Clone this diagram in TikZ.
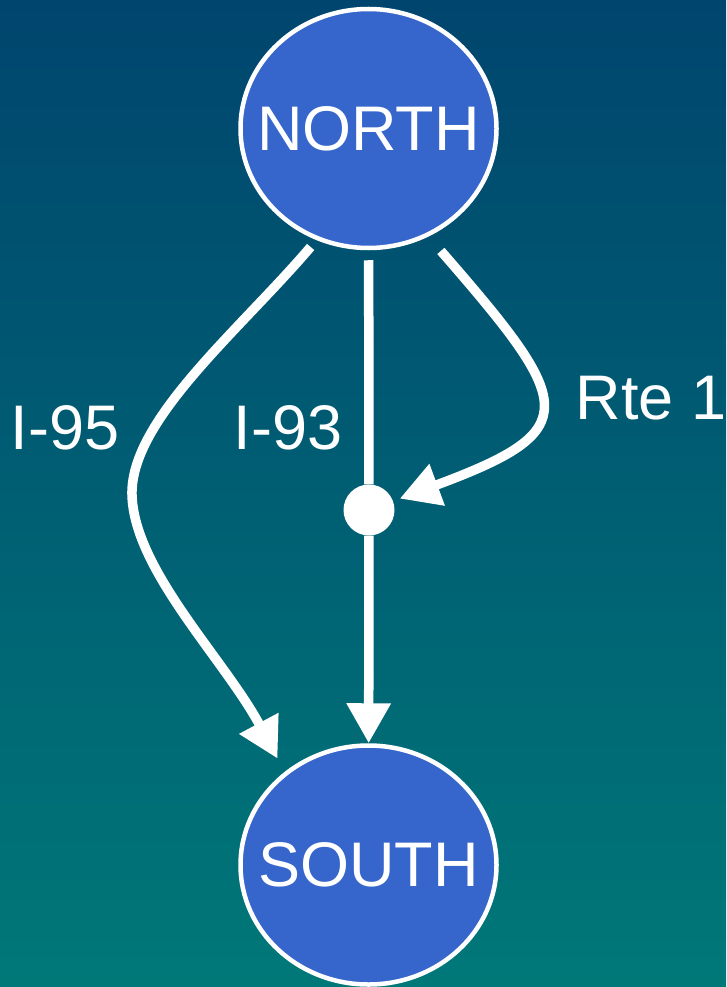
\documentclass[tikz,border=0pt]{standalone}
\usepackage{fontspec}
\setmainfont{Liberation Sans}
\usetikzlibrary{arrows.meta,shapes.geometric}
\definecolor{bgtop}{HTML}{00456E}
\definecolor{bgbottom}{HTML}{007878}
\definecolor{nodefill}{HTML}{3666CC}
\begin{document}
\begin{tikzpicture}[x=1pt,y=-1pt,
  place/.style={ellipse,draw=white,line width=4.5pt,fill=nodefill,text=white,
    minimum width=256pt,minimum height=239pt,inner sep=0pt,
    font=\fontsize{63}{63}\selectfont},
  junction/.style={circle,fill=white,minimum size=51pt,inner sep=0pt},
  road/.style={draw=white,line width=9.5pt},
  roadarrow/.style={road,-{Triangle[length=40pt,width=42pt]}},
  roadlabel/.style={text=white,anchor=base,inner sep=0pt,
    font=\fontsize{63}{63}\selectfont}]
  % background
  \shade[top color=bgtop,bottom color=bgbottom] (0,0) rectangle (726,987);
  \useasboundingbox (0,0) rectangle (726,987);

  % nodes (names set in zero-width boxes so the ellipse keeps its size)
  \node[place] (N) at (368.5,128.5) {\makebox[0pt]{NORTH}};
  \node[place] (S) at (368.5,865) {\makebox[0pt]{SOUTH}};
  \node[junction] (J) at (369,510) {};

  % roads
  \draw[roadarrow,shorten <=9pt,shorten >=15pt]
    (N.-115) .. controls (240,330) and (130,420) .. (132,495)
             .. controls (134,570) and (225,660) .. (S.132);
  \draw[road,shorten <=10pt] (N) -- (J);
  \draw[roadarrow,shorten <=19pt,shorten >=7pt]
    (N.-61) .. controls (575,405) and (585,430) .. (J);
  \draw[roadarrow] (J) -- (S);

  % labels
  \node[roadlabel] (l95) at (65,449) {I-95};
  \node[roadlabel] (l93) at (288,449) {I-93};
  \node[roadlabel] (lr1) at (651,419) {Rte 1};
\end{tikzpicture}
\end{document}
